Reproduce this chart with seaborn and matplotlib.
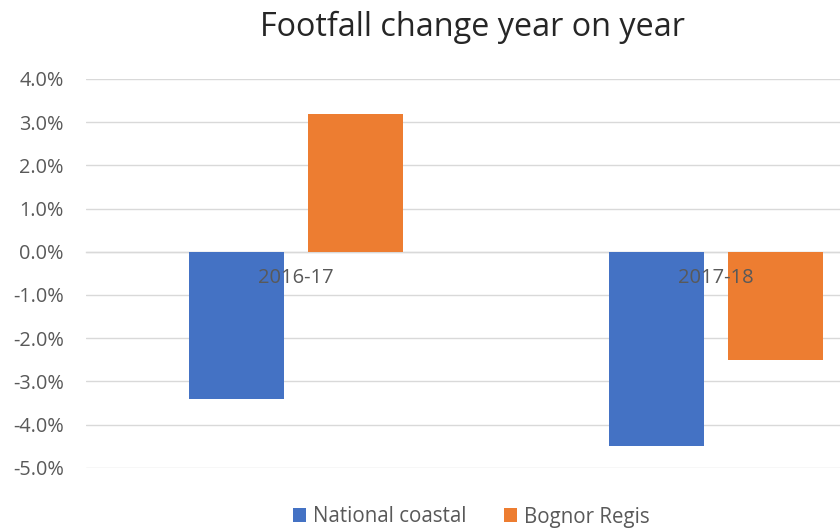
import pandas as pd
import numpy as np

import matplotlib.pyplot as plt
from matplotlib.ticker import PercentFormatter
import seaborn as sns


years = ["2016-17", "2017-18"]
national_coastal = [-3.4, -4.5]
bognor_regis = [3.2, -2.5]
series_names = ["National coastal", "Bognor Regis"]
colors = ["#4472C4", "#ED7D31"]

df = pd.DataFrame({
    "Year": years * 2,
    "Change": national_coastal + bognor_regis,
    "Series": [series_names[0]] * len(years) + [series_names[1]] * len(years),
})


sns.set_theme(style="white")
plt.rcParams["font.family"] = ["Open Sans", "DejaVu Sans"]
plt.rcParams["axes.unicode_minus"] = False

text_grey = "#595959"
grid_grey = "#D9D9D9"

fig = plt.figure(figsize=(8.4, 5.29), dpi=100)
ax = fig.add_axes([86 / 840, 1 - 467.7 / 529, 1 - 86 / 840, (467.7 - 79) / 529])

sns.barplot(
    data=df,
    x="Year",
    y="Change",
    hue="Series",
    hue_order=series_names,
    palette=colors,
    saturation=1,
    width=0.565,
    gap=0.2,
    linewidth=0,
    ax=ax,
)

ax.set_ylim(-5, 4)
ax.set_xlim(-0.5, -0.5 + (840 - 86) / 420)
ax.set_yticks(np.arange(-5, 5, 1))
ax.yaxis.set_major_formatter(PercentFormatter(decimals=1))
ax.yaxis.grid(True, color=grid_grey, linewidth=1)
ax.set_axisbelow(True)
# category labels sit on top of the bars, like Excel
ax.xaxis.set_zorder(5)

for side in ["top", "right", "left"]:
    ax.spines[side].set_visible(False)
ax.spines["bottom"].set_position(("data", 0))
ax.spines["bottom"].set_color(grid_grey)
ax.spines["bottom"].set_linewidth(1)
ax.spines["bottom"].set_zorder(0.5)

ax.tick_params(axis="y", length=0, pad=16, labelsize=14.3, labelcolor=text_grey)
ax.tick_params(axis="x", length=0, pad=12, labelsize=14.5, labelcolor=text_grey)
ax.set_xlabel("")
ax.set_ylabel("")

handles, labels = ax.get_legend_handles_labels()
ax.get_legend().remove()
fig.legend(
    handles,
    labels,
    loc="center",
    bbox_to_anchor=(0.561, 1 - 517 / 529),
    ncol=2,
    frameon=False,
    fontsize=14.8,
    labelcolor=text_grey,
    handlelength=0.65,
    handleheight=0.65,
    handletextpad=0.35,
    columnspacing=1.8,
    borderpad=0,
)

fig.text(
    0.563, 1 - 27.5 / 529,
    "Footfall change year on year",
    ha="center", va="center",
    fontsize=23.3, color="#262626",
)

fig.savefig("out.png", dpi=100)
